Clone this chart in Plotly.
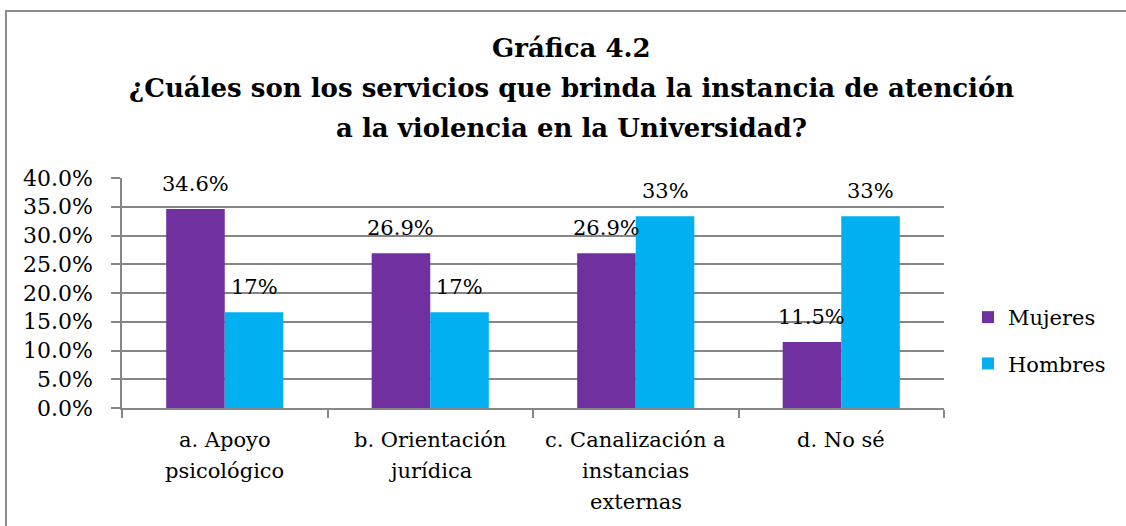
import plotly.graph_objects as go

categories = ["a. Apoyo<br>psicológico", "b. Orientación<br>jurídica",
              "c. Canalización a<br>instancias<br>externas", "d. No sé"]
mujeres = [34.6, 26.9, 26.9, 11.5]
hombres = [16.67, 16.67, 33.33, 33.33]
mujeres_labels = ["34.6%", "26.9%", "26.9%", "11.5%"]
hombres_labels = ["17%", "17%", "33%", "33%"]
title_lines = ["Gráfica 4.2",
               "¿Cuáles son los servicios que brinda la instancia de atención",
               "a la violencia en la Universidad?"]

W, H = 1126, 526
L, R, T, B = 122, 182, 178, 118
PW, PH = W - L - R, H - T - B

FONT = "DejaVu Serif"
PURPLE = "#7030A0"
BLUE = "#00B0F0"
GRID = "#868686"

fig = go.Figure()
fig.add_trace(go.Bar(name="Mujeres", x=categories, y=mujeres, marker_color=PURPLE,
                     marker_line_width=0, legendgroup="m"))
fig.add_trace(go.Bar(name="Hombres", x=categories, y=hombres, marker_color=BLUE,
                     marker_line_width=0, legendgroup="h"))

cat_px = PW / len(categories)
bargap = 0.43
bar_px = cat_px * (1 - bargap) / 2
for series, labels, sign in ((mujeres, mujeres_labels, -1), (hombres, hombres_labels, 1)):
    for c, v, lab in zip(categories, series, labels):
        fig.add_annotation(x=c, y=v, xref="x", yref="y", text=lab, showarrow=False,
                           xshift=sign * bar_px / 2, yanchor="bottom", yshift=11,
                           font=dict(family=FONT, size=21, color="#000"))

# category labels, one annotation per line for Excel-like line spacing
for c in categories:
    for i, line in enumerate(c.split("<br>")):
        fig.add_annotation(x=c, y=0, xref="x", yref="y", text=line, showarrow=False,
                           yanchor="middle", yshift=-(32 + 31 * i),
                           font=dict(family=FONT, size=21, color="#000"))

# title, one annotation per line
for i, line in enumerate(title_lines):
    fig.add_annotation(x=(571 - L) / PW, y=(H - B - (48 + 40 * i)) / PH,
                       xref="paper", yref="paper", text="<b>" + line + "</b>",
                       showarrow=False, xanchor="center", yanchor="middle",
                       font=dict(family=FONT, size=26, color="#000"))

# outer chart border
fig.add_shape(type="rect", xref="paper", yref="paper",
              x0=(6 - L) / PW, x1=(W + 10 - L) / PW,
              y0=(H - B - (H + 10)) / PH, y1=(H - B - 11) / PH,
              line=dict(color="#8c8c8c", width=2), fillcolor="rgba(0,0,0,0)", layer="below")

fig.update_layout(
    width=W, height=H,
    margin=dict(l=L, r=R, t=T, b=B, autoexpand=False),
    barmode="group", bargap=bargap, bargroupgap=0,
    plot_bgcolor="white", paper_bgcolor="white",
    font=dict(family=FONT, size=21, color="#000"),
    showlegend=True,
    legend=dict(x=1.0 + (968 - 944) / PW, y=(H - B - 297) / PH, xanchor="left", yanchor="top",
                font=dict(family=FONT, size=21), itemwidth=30, tracegroupgap=16,
                bgcolor="rgba(0,0,0,0)", traceorder="grouped"),
    xaxis=dict(showline=True, linecolor=GRID, linewidth=1.5, ticks="outside",
               tickson="boundaries", ticklen=8, tickcolor=GRID, tickwidth=1.5,
               showticklabels=False, showgrid=False),
    yaxis=dict(range=[0, 40], dtick=5, tickformat=".1f", ticksuffix="%",
               showline=True, linecolor=GRID, linewidth=1.5, ticks="outside", ticklen=9,
               ticklabelstandoff=14,
               tickcolor=GRID, tickwidth=1.5, showgrid=True, gridcolor=GRID, gridwidth=1.5,
               zeroline=False, tickfont=dict(family=FONT, size=22)),
)

fig.write_html("out.html", config={"displayModeBar": False},
               post_script="document.body.style.margin='0';document.body.style.overflow='hidden';")
